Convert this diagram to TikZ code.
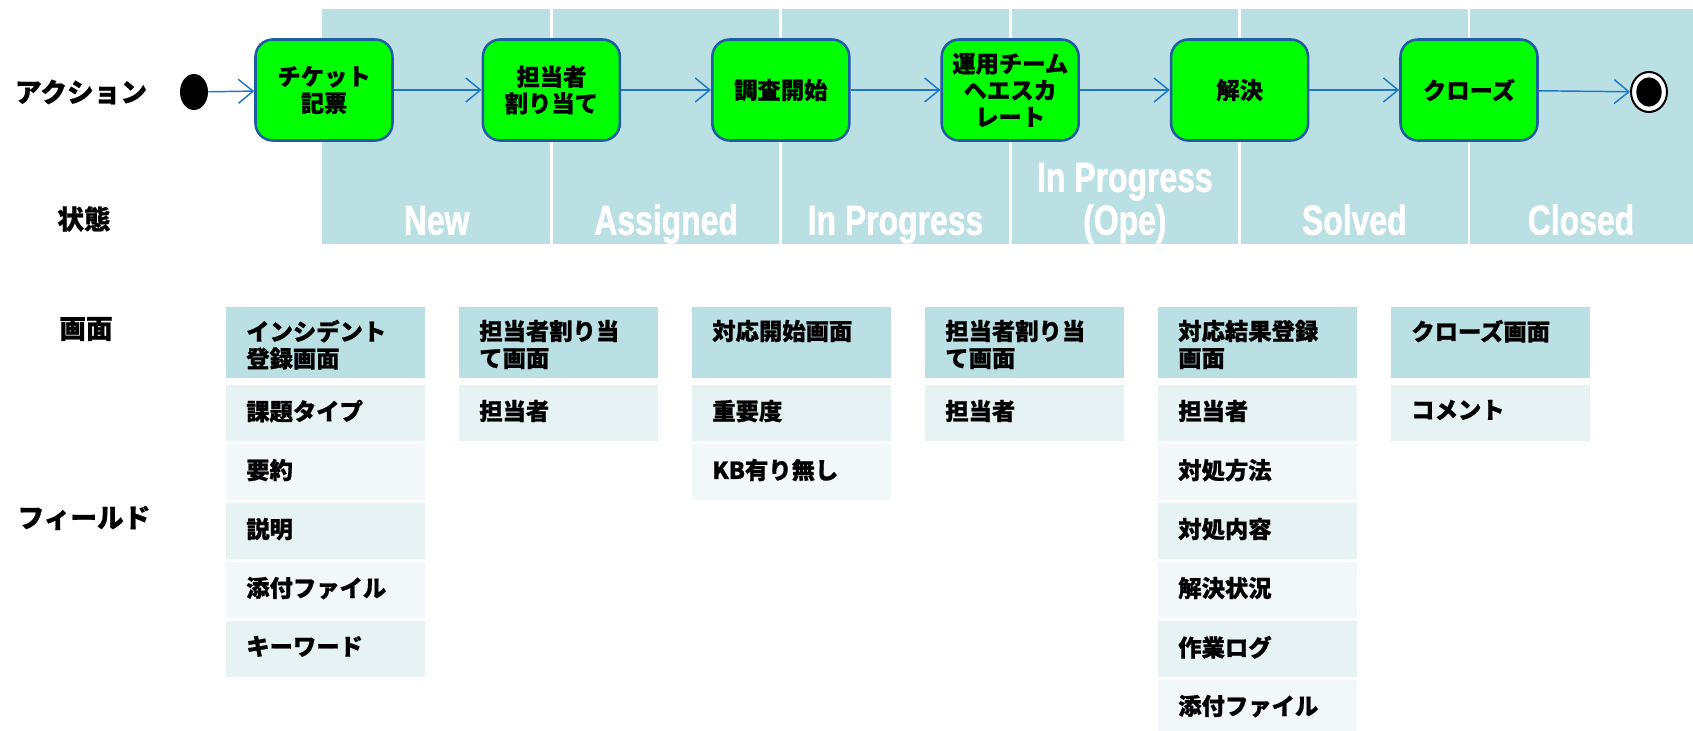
\documentclass[tikz,border=0pt]{standalone}
\usepackage{fontspec}
\setmainfont{Noto Sans CJK JP}[BoldFeatures={FakeBold=0.8}]
\newfontfamily\statefont{Liberation Sans}[FakeStretch=0.76,BoldFeatures={FakeBold=1.2}]
\usetikzlibrary{arrows.meta,shapes.geometric}
\definecolor{bandc}{HTML}{BBE0E4}
\definecolor{rowa}{HTML}{E6F2F4}
\definecolor{rowb}{HTML}{F2F8FA}
\definecolor{nodegreen}{HTML}{00FF00}
\definecolor{nodeborder}{HTML}{1F5CA0}
\definecolor{arrowc}{HTML}{1E78C8}
\tikzset{
 action/.style={draw=nodeborder, line width=1.9pt, fill=nodegreen, rounded corners=13pt,
   minimum width=102.75pt, minimum height=75.75pt, align=center, inner sep=0pt,
   font=\fontsize{17.5}{20}\selectfont\bfseries},
 flow/.style={draw=arrowc, line width=1.1pt, -{Straight Barb[length=11pt,width=18pt]}},
 rowlabel/.style={font=\fontsize{20}{24}\selectfont\bfseries},
 statelabel/.style={text=white, font=\statefont\fontsize{31.5}{32.25}\selectfont\bfseries,
   align=center, anchor=south, text depth=0pt, inner sep=0pt},
 hdrcell/.style={fill=bandc, minimum width=149.25pt, minimum height=53.25pt, inner sep=0pt, anchor=north west},
 fieldcell/.style={minimum width=149.25pt, minimum height=42pt, inner sep=0pt, anchor=north west},
 celltext/.style={font=\fontsize{17.5}{20.25}\selectfont\bfseries, align=left, inner sep=0pt, anchor=north west},
 sepline/.style={draw=white, line width=2.2pt}
}
\newcommand\screencol[4]{%
  \node[hdrcell] (h#1) at (#2,307) {};
  \node[celltext] (ht#1) at ([xshift=15pt,yshift=-9.5pt]h#1.north west) {#3};
  \foreach \t [count=\i, evaluate=\i as \ytop using 385+59*(\i-1)] in {#4} {
    \ifodd\i \def\rc{rowa}\else\def\rc{rowb}\fi
    \node[fieldcell, fill=\rc] (c#1r\i) at (#2,\ytop) {};
    \node[celltext] (t#1r\i) at ([xshift=15pt,yshift=-11pt]c#1r\i.north west) {\t};
  }%
}
\begin{document}
\begin{tikzpicture}[x=0.75pt,y=-0.75pt]
\useasboundingbox (0,0) rectangle (1693,731);
% state band
\fill[bandc] (322,9) rectangle (1693,244);
\foreach \k in {1,...,5} {
  \draw[sepline] ({322+229.4*\k},9) -- ({322+229.4*\k},244);
}
% state labels
\node[statelabel] (sNew) at (436.7,235) {New};
\node[statelabel] (sAss) at (666.1,235) {Assigned};
\node[statelabel] (sInP) at (895.5,235) {In Progress};
\node[statelabel] (sOpe) at (1124.9,235) {In Progress\\(Ope)};
\node[statelabel] (sSol) at (1354.3,235) {Solved};
\node[statelabel] (sClo) at (1581,235) {Closed};
% row labels
\node[rowlabel] (lAct) at (81,92) {アクション};
\node[rowlabel] (lSt) at (84,219) {状態};
\node[rowlabel] (lScr) at (86,329) {画面};
\node[rowlabel] (lFld) at (84,518) {フィールド};
% actions
\node[ellipse, fill=black, minimum width=21pt, minimum height=27pt, inner sep=0pt] (start) at (194,92) {};
\node[action] (a1) at (324,90) {チケット\\記票};
\node[action] (a2) at (551.4,90) {担当者\\割り当て};
\node[action] (a3) at (780.8,90) {調査開始};
\node[action] (a4) at (1010.2,90) {運用チーム\\ヘエスカ\\レート};
\node[action] (a5) at (1239.6,90) {解決};
\node[action] (a6) at (1469,90) {クローズ};
\node[ellipse, draw=black, line width=1.5pt, fill=white, minimum width=27pt, minimum height=30pt, inner sep=0pt] (end) at (1649,92) {};
\fill[black] (end.center) ellipse [x radius=9.5pt, y radius=11pt];
\draw[flow] (start) -- (a1);
\draw[flow] (a1) -- (a2);
\draw[flow] (a2) -- (a3);
\draw[flow] (a3) -- (a4);
\draw[flow] (a4) -- (a5);
\draw[flow] (a5) -- (a6);
\draw[flow] (a6) -- (end);
% screens
\screencol{1}{226}{インシデント\\登録画面}{課題タイプ,要約,説明,添付ファイル,キーワード}
\screencol{2}{459}{担当者割り当\\て画面}{担当者}
\screencol{3}{692}{対応開始画面}{重要度,KB有り無し}
\screencol{4}{925}{担当者割り当\\て画面}{担当者}
\screencol{5}{1158}{対応結果登録\\画面}{担当者,対処方法,対処内容,解決状況,作業ログ,添付ファイル}
\screencol{6}{1391}{クローズ画面}{コメント}
\end{tikzpicture}
\end{document}
